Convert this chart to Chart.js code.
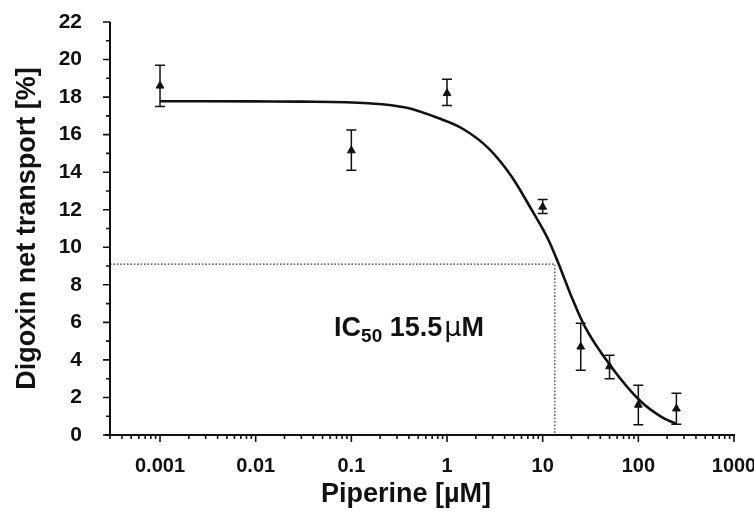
<!DOCTYPE html>
<html>
<head>
<meta charset="utf-8">
<script src="https://cdn.jsdelivr.net/npm/chart.js@4/dist/chart.umd.min.js"></script>
<style>
  html, body { margin: 0; padding: 0; background: #fff; }
  canvas { display: block; }
</style>
</head>
<body>
<canvas id="ic50Chart" width="754" height="513"></canvas>
<script>
// measured points (piperine dose, digoxin net transport %)
const doseX = [0.001, 0.1, 1, 10, 25, 50, 100, 250];
const meanY = [18.6, 15.15, 18.2, 12.15, 4.7, 3.65, 1.6, 1.4];
const errLow = [17.5, 14.1, 17.55, 11.8, 3.45, 3.0, 0.55, 0.57];
const errHigh = [19.7, 16.25, 18.95, 12.55, 5.95, 4.25, 2.65, 2.22];

// fitted curve
const curveX = [0.001, 0.01, 0.031, 0.15, 0.37, 0.82, 1.43, 2.72, 4.75, 7.68, 11.5, 14.6, 20, 27.6, 52, 107, 174, 250];
const curveY = [17.78, 17.77, 17.76, 17.67, 17.44, 16.87, 16.34, 15.27, 13.76, 11.99, 10.39, 9.15, 7.37, 5.77, 3.64, 1.77, 0.97, 0.59];

// IC50 guide lines
const guideX = [0.0003, 13.4, 13.4];
const guideY = [9.1, 9.1, 0];

// axes
const xDecades = [0.001, 0.01, 0.1, 1, 10, 100, 1000];
const xDecadeLabels = ['0.001', '0.01', '0.1', '1', '10', '100', '1000'];
const yTickValues = [];
for (let v = 0; v <= 22; v++) yTickValues.push(v);
const xTickValues = [];
for (let e = -4; e <= 2; e++) {
    for (let m = 1; m <= 9; m++) {
        const v = parseFloat((m * Math.pow(10, e)).toPrecision(3));
        if (v >= 0.0003 && v <= 1000) xTickValues.push(v);
    }
}
xTickValues.push(1000);

const FONT = '"Liberation Sans", Arial, sans-serif';
const INK = '#111';
const isDecade = v => Math.abs(Math.log10(v) - Math.round(Math.log10(v))) < 1e-6;

const pts = (xs, ys) => xs.map((x, i) => ({ x, y: ys[i] }));

// axis lines, major/minor ticks, error bars, annotation
const figureBits = {
    id: 'figureBits',
    beforeDatasetsDraw(chart) {
        const { ctx, scales: { x, y } } = chart;
        ctx.save();
        ctx.strokeStyle = INK;
        ctx.lineWidth = 1.5;
        doseX.forEach((d, i) => {
            const px = x.getPixelForValue(d);
            const top = y.getPixelForValue(errHigh[i]);
            const bot = y.getPixelForValue(errLow[i]);
            ctx.beginPath();
            ctx.moveTo(px, top); ctx.lineTo(px, bot);
            ctx.moveTo(px - 5, top); ctx.lineTo(px + 5, top);
            ctx.moveTo(px - 5, bot); ctx.lineTo(px + 5, bot);
            ctx.stroke();
        });
        ctx.restore();
    },
    afterDraw(chart) {
        const { ctx, chartArea: a, scales: { x, y } } = chart;
        ctx.save();
        ctx.strokeStyle = INK;
        ctx.lineWidth = 2;
        ctx.beginPath();
        ctx.moveTo(a.left, a.top); ctx.lineTo(a.left, a.bottom + 1);
        ctx.moveTo(a.left - 5, a.bottom); ctx.lineTo(a.right + 1, a.bottom);
        ctx.stroke();

        ctx.lineWidth = 1.6;
        ctx.beginPath();
        y.ticks.forEach(t => {
            const py = y.getPixelForValue(t.value);
            const len = t.value % 2 === 0 ? 7 : 4;
            ctx.moveTo(a.left, py); ctx.lineTo(a.left - len, py);
        });
        x.ticks.forEach(t => {
            const px = x.getPixelForValue(t.value);
            const len = isDecade(t.value) ? 7 : 4;
            ctx.moveTo(px, a.bottom); ctx.lineTo(px, a.bottom + len);
        });
        ctx.stroke();

        // x axis title
        ctx.fillStyle = INK;
        ctx.font = 'bold 27px ' + FONT;
        ctx.textAlign = 'center';
        ctx.textBaseline = 'alphabetic';
        ctx.fillText('Piperine [µM]', 406, 502);

        // IC50 label
        let lx = x.getPixelForValue(0.066);
        const ly = y.getPixelForValue(5.3);
        ctx.textAlign = 'left';
        const part = (txt, font, dy) => {
            ctx.font = font;
            ctx.fillText(txt, lx, ly + dy);
            lx += ctx.measureText(txt).width;
        };
        part('IC', 'bold 27px ' + FONT, 0);
        part('50', 'bold 19px ' + FONT, 6);
        part(' 15.5', 'bold 27px ' + FONT, 0);
        lx += 2;
        part('μ', '27px "DejaVu Sans", sans-serif', 0);
        part('M', 'bold 27px ' + FONT, 0);
        ctx.restore();
    }
};

new Chart(document.getElementById('ic50Chart').getContext('2d'), {
    type: 'scatter',
    data: {
        datasets: [
            {
                label: 'guide',
                type: 'line',
                data: pts(guideX, guideY),
                borderColor: '#333',
                borderWidth: 1.2,
                borderDash: [1.6, 1.8],
                pointRadius: 0,
                fill: false,
                clip: false
            },
            {
                label: 'fit',
                type: 'line',
                data: pts(curveX, curveY),
                borderColor: INK,
                borderWidth: 2.6,
                pointRadius: 0,
                cubicInterpolationMode: 'monotone',
                fill: false
            },
            {
                label: 'Digoxin net transport',
                data: pts(doseX, meanY),
                pointStyle: 'triangle',
                pointRadius: 4.5,
                backgroundColor: INK,
                borderColor: INK,
                borderWidth: 1
            }
        ]
    },
    options: {
        responsive: false,
        animation: false,
        devicePixelRatio: 1,
        layout: { padding: { top: 22, right: 20, left: 0, bottom: 0 } },
        plugins: { legend: { display: false }, tooltip: { enabled: false } },
        scales: {
            x: {
                type: 'logarithmic',
                min: 0.0003,
                max: 1000,
                afterBuildTicks: s => { s.ticks = xTickValues.map(v => ({ value: v })); },
                afterFit: s => { s.height = 78; s.paddingLeft = 0; s.paddingRight = 0; },
                grid: { display: false },
                border: { display: false },
                ticks: {
                    autoSkip: false,
                    maxRotation: 0,
                    padding: 11,
                    color: INK,
                    font: { family: FONT, size: 20, weight: 'bold' },
                    callback: v => {
                        const i = xDecades.findIndex(d => Math.abs(Math.log10(d) - Math.log10(v)) < 1e-6);
                        return i >= 0 ? xDecadeLabels[i] : '';
                    }
                }
            },
            y: {
                min: 0,
                max: 22,
                afterBuildTicks: s => { s.ticks = yTickValues.map(v => ({ value: v })); },
                afterFit: s => { s.width = 110; s.paddingTop = 0; s.paddingBottom = 0; },
                grid: { display: false },
                border: { display: false },
                title: {
                    display: true,
                    text: 'Digoxin net transport [%]',
                    color: INK,
                    font: { family: FONT, size: 27, weight: 'bold', lineHeight: 1 },
                    padding: { top: 14, bottom: 0 }
                },
                ticks: {
                    autoSkip: false,
                    padding: 20,
                    color: INK,
                    font: { family: FONT, size: 21, weight: 'bold' },
                    callback: v => (v % 2 === 0 ? String(v) : '')
                }
            }
        }
    },
    plugins: [figureBits]
});
</script>
</body>
</html>
